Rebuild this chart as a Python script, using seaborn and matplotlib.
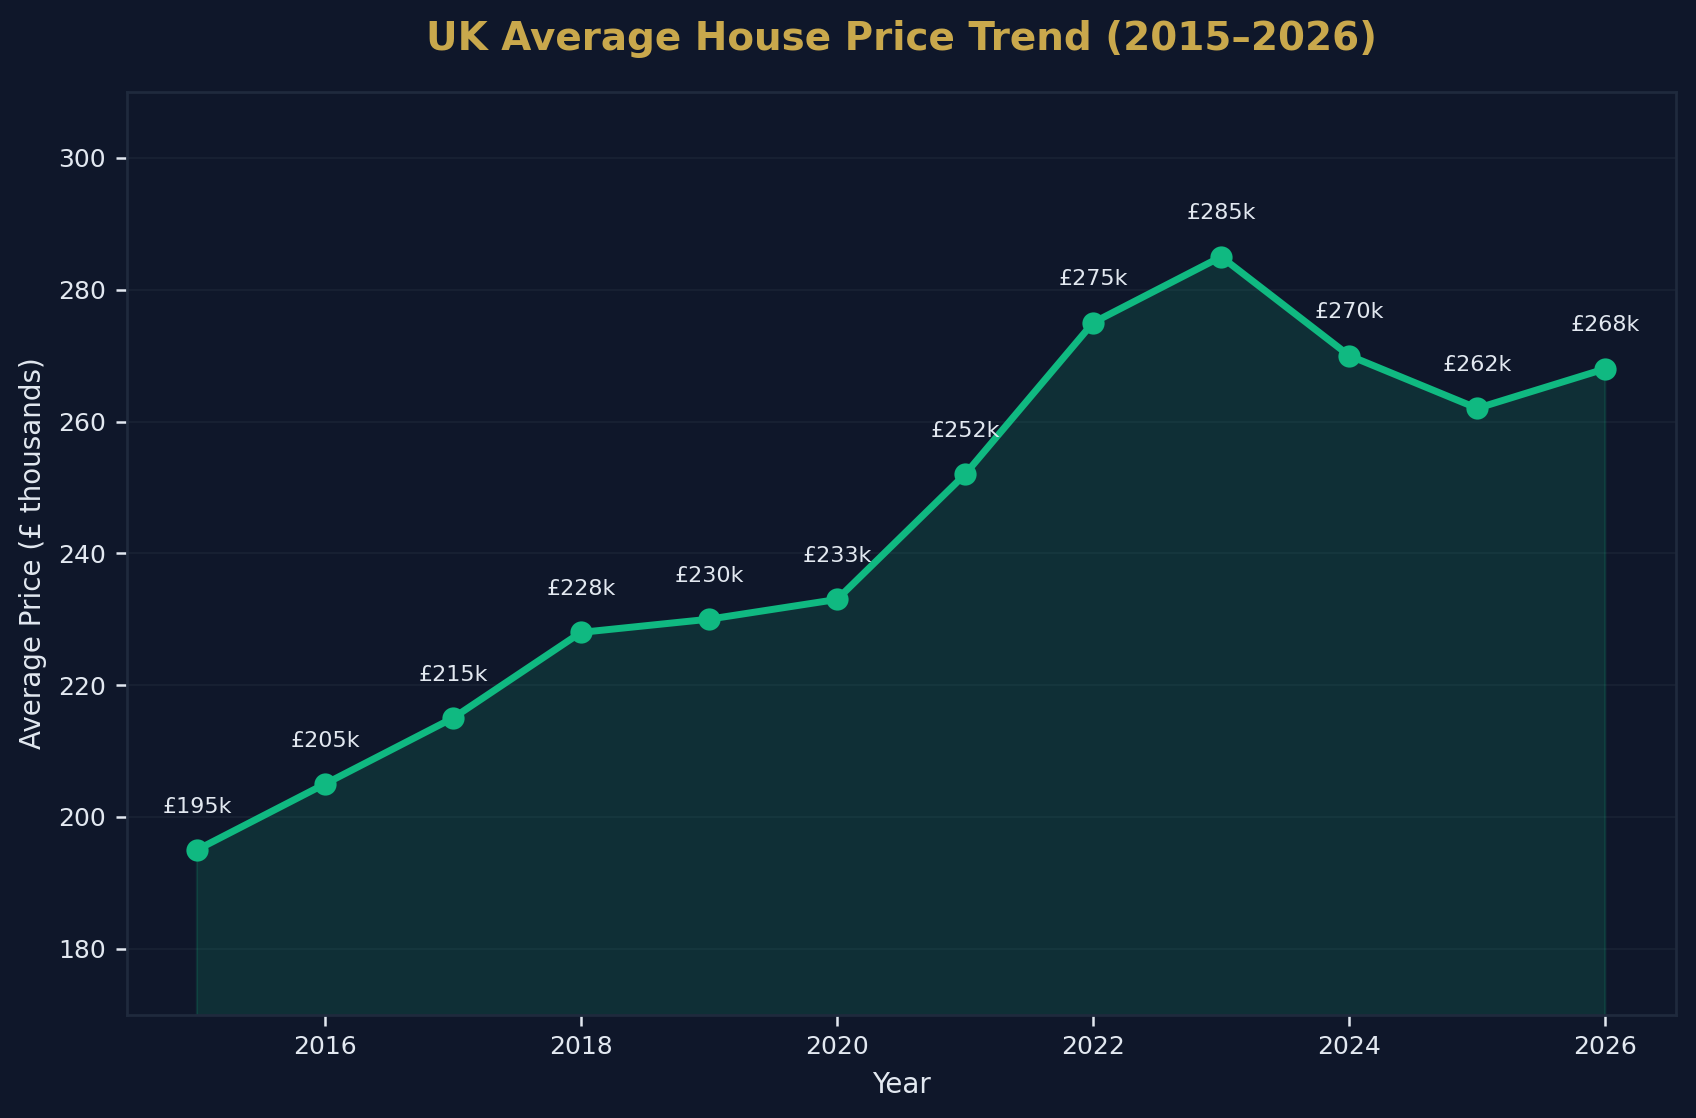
import numpy as np
import pandas as pd
import matplotlib
matplotlib.use("Agg")
import matplotlib.pyplot as plt
import seaborn as sns

# Dados
anos = [2015, 2016, 2017, 2018, 2019, 2020, 2021, 2022, 2023, 2024, 2025, 2026]
precos = [195, 205, 215, 228, 230, 233, 252, 275, 285, 270, 262, 268]
rotulos = ["£195k", "£205k", "£215k", "£228k", "£230k", "£233k",
           "£252k", "£275k", "£285k", "£270k", "£262k", "£268k"]

df = pd.DataFrame({"ano": anos, "preco": precos})

# Cores
fundo = "#0f172a"
verde = "#10b981"
dourado = "#c9a84c"
texto = "#e2e8f0"
borda = "#1f2a3d"

sns.set_theme(style="dark")
plt.rcParams["font.family"] = ["DejaVu Sans"]

fig, ax = plt.subplots(figsize=(8.48, 5.59), dpi=200)
fig.patch.set_facecolor(fundo)
ax.set_facecolor(fundo)

ax.fill_between(df["ano"], df["preco"], 0, color=verde, alpha=0.15, linewidth=0.8)
sns.lineplot(data=df, x="ano", y="preco", ax=ax, color=verde, linewidth=2.5,
             marker="o", markersize=8, markeredgewidth=0)

for x, y, r in zip(anos, precos, rotulos):
    ax.annotate(r, (x, y), xytext=(0, 12), textcoords="offset points",
                ha="center", va="bottom", fontsize=8, color=texto)

ax.set_ylim(170, 310)
ax.set_xlim(2014.45, 2026.55)
ax.set_xticks([2016, 2018, 2020, 2022, 2024, 2026])
ax.set_yticks([180, 200, 220, 240, 260, 280, 300])

ax.set_title("UK Average House Price Trend (2015–2026)", fontsize=14,
             fontweight="bold", color=dourado, pad=15)
ax.set_xlabel("Year", fontsize=10, color=texto)
ax.set_ylabel("Average Price (£ thousands)", fontsize=10, color=texto)

ax.tick_params(colors=texto, labelsize=9, length=4, width=0.9, left=True, bottom=True)
ax.grid(axis="y", color="#182133", linewidth=0.7)
ax.grid(axis="x", visible=False)
for s in ax.spines.values():
    s.set_color(borda)
    s.set_linewidth(1)

fig.subplots_adjust(left=0.0746, right=0.988, top=0.9177, bottom=0.0925)
fig.savefig("out.png", dpi=200, facecolor=fundo)
